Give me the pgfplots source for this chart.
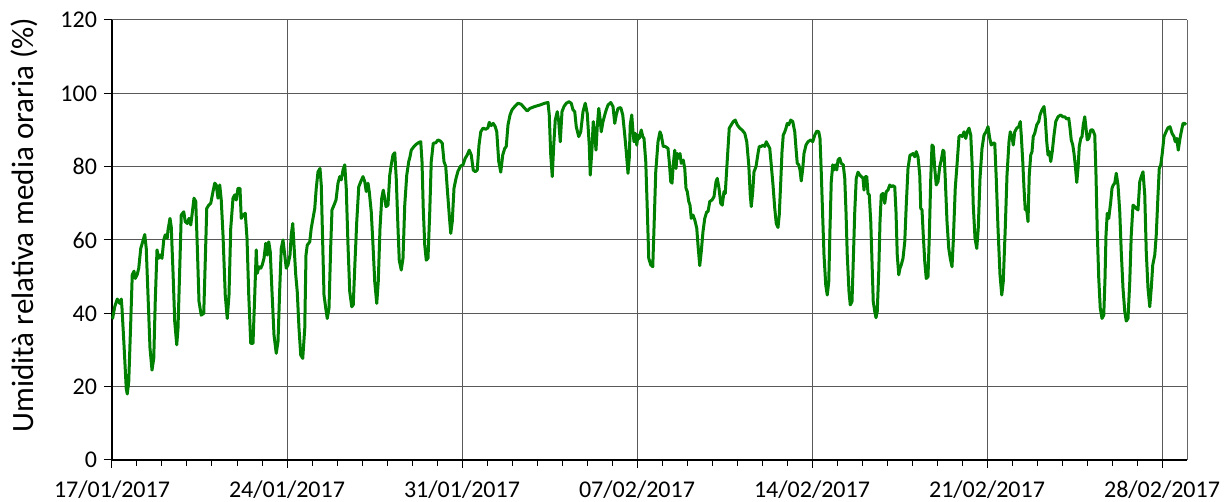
\documentclass[border=0pt]{standalone}
\usepackage{fontspec}
\setmainfont{Carlito}
\usepackage{pgfplots}
\pgfplotsset{compat=1.18}
\definecolor{lgreen}{RGB}{0,128,0}
\begin{document}
\begin{tikzpicture}
\begin{axis}[
  name=ax,
  scale only axis,
  width=537.5pt, height=220pt,
  xmin=0, xmax=43, ymin=0, ymax=120,
  axis x line*=bottom, axis y line*=left,
  axis line style={-, black, line width=0.6pt},
  xtick={0,7,14,21,28,35,42},
  xticklabels={17/01/2017,24/01/2017,31/01/2017,07/02/2017,14/02/2017,21/02/2017,28/02/2017},
  minor x tick num=6,
  ytick={0,20,...,120},
  tick align=outside,
  major tick length=4pt, minor tick length=3pt,
  tick style={black, line width=0.5pt},
  xmajorgrids, ymajorgrids,
  major grid style={black!65, line width=0.5pt},
  /pgf/number format/assume math mode=true,
  tick label style={font=\fontsize{12}{14}\selectfont},
  xticklabel style={yshift=-3pt},
  ylabel={Umidità relativa media oraria (\%)},
  ylabel style={font=\fontsize{15.5}{18}\selectfont, at={(axis description cs:-0.082,0.534)}, anchor=center},
  clip=false,
]
\draw[black!60, line width=0.5pt] (rel axis cs:1,0) -- (rel axis cs:1,1);
\addplot[lgreen, line width=1.5pt, line join=round] coordinates {
(0.00,38.5)(0.03,38.8)(0.11,41.8)(0.21,43.9)(0.31,42.7)(0.37,43.9)(0.40,41.4)(0.48,31.4)(0.57,19.5)(0.61,18.0)(0.67,21.4)(0.75,37.7)(0.81,50.5)(0.88,51.5)(0.93,49.5)(1.01,50.6)(1.07,52.3)(1.15,57.7)(1.21,59.1)(1.31,61.5)(1.37,57.7)(1.44,45)(1.52,30.5)(1.60,24.5)(1.67,27.7)(1.73,43.2)(1.80,57.3)(1.87,55)(1.93,55.9)(2.00,55)(2.07,60)(2.13,61.4)(2.21,60.5)(2.24,62.7)(2.32,65.9)(2.37,63.6)(2.44,51.4)(2.51,37.7)(2.59,31.4)(2.64,35.9)(2.71,52.3)(2.77,66.8)(2.87,67.7)(2.93,65)(3.01,64.5)(3.08,65.9)(3.15,64.1)(3.20,66.8)(3.28,71.4)(3.35,70.5)(3.41,58.6)(3.48,43.2)(3.57,39.5)(3.67,40)(3.73,54.1)(3.79,68.6)(3.87,69.5)
(3.95,70)(4.04,73.2)(4.11,75.5)(4.17,75)(4.24,71.4)(4.31,75)(4.37,70.9)(4.44,61.4)(4.53,45)(4.61,38.6)(4.68,45)(4.75,63.2)(4.84,71.4)(4.91,72.3)(4.97,70.9)(5.04,74.1)(5.12,74.1)(5.17,65.9)(5.25,66.8)(5.33,67.3)(5.40,60.5)(5.47,45)(5.55,31.8)(5.64,31.8)(5.71,45)(5.77,57.3)(5.81,50.9)(5.88,52.7)(5.95,52.3)(6.01,53.2)(6.08,55)(6.15,59.1)(6.21,55.9)(6.27,59.5)(6.33,56.8)(6.40,45.9)(6.48,34.1)(6.57,29.1)(6.64,32.3)(6.71,46.8)(6.77,57.7)(6.84,60)(6.91,55.9)(6.97,52.3)(7.04,53.2)(7.12,55.9)(7.17,61.4)(7.23,64.5)(7.28,58.6)(7.35,50.5)(7.41,45.9)(7.48,35.9)(7.55,28.6)(7.63,27.7)(7.71,35.9)(7.76,55.9)(7.81,58.6)
(7.91,59.5)(7.97,63.2)(8.04,65.9)(8.11,68.6)(8.17,74.1)(8.24,78.6)(8.32,79.5)(8.37,75)(8.43,58.6)(8.48,45)(8.55,41.4)(8.61,38.6)(8.68,41.4)(8.75,58.6)(8.80,68.2)(8.88,69.5)(8.96,70.9)(9.04,75.5)(9.11,77.3)(9.17,76.4)(9.24,79.1)(9.31,80.5)(9.37,74.1)(9.44,58.6)(9.51,45.9)(9.59,41.8)(9.65,42.3)(9.72,54.1)(9.79,65)(9.87,74.5)(9.95,75.9)(10.04,77.3)(10.11,75.9)(10.17,73.2)(10.24,75.5)(10.29,73.2)(10.37,67.7)(10.44,58.6)(10.51,48.6)(10.59,42.7)(10.65,48.6)(10.72,63.2)(10.79,71.4)(10.85,73.6)(10.91,71.4)(10.96,69.1)(11.04,69.5)(11.11,77.7)(11.17,80.5)(11.24,83.2)(11.31,83.8)(11.37,76.8)(11.44,63.2)(11.49,54.5)(11.57,51.8)(11.64,55)(11.71,69.5)(11.79,77.7)(11.87,81.4)(11.92,82.7)
(11.97,84.5)(12.08,85.5)(12.17,86.1)(12.27,86.6)(12.35,86.8)(12.40,81.4)(12.45,68.6)(12.51,58.6)(12.57,54.5)(12.64,55)(12.71,67.7)(12.77,81.4)(12.85,86.4)(12.95,86.5)(13.04,87.3)(13.13,87)(13.21,86.4)(13.28,81.4)(13.35,80)(13.41,74.1)(13.49,66.8)(13.55,61.8)(13.61,65)(13.68,74.1)(13.76,76.8)(13.84,78.8)(13.95,80.2)(14.04,80.5)(14.13,82.3)(14.21,83.2)(14.29,84.5)(14.37,83.2)(14.45,79.1)(14.53,78.6)(14.61,79.1)(14.68,85.9)(14.75,89.5)(14.84,90.5)(14.95,90.2)(15.04,90.6)(15.09,92.1)(15.17,91.2)(15.25,91.8)(15.33,90.9)(15.39,89.5)(15.47,81.4)(15.55,78.5)(15.63,83.2)(15.71,85)(15.77,85.5)(15.84,91.4)(15.92,94.1)
(16.00,95.5)(16.11,96.4)(16.24,97.3)(16.37,97)(16.51,95.9)(16.61,95.2)(16.72,95.9)(16.91,96.4)(17.11,96.8)(17.31,97.3)(17.44,97.5)(17.49,94.1)(17.55,83.2)(17.61,77.3)(17.67,85.9)(17.73,92.7)(17.81,95)(17.87,92.3)(17.93,86.8)(18.00,95)(18.08,96.4)(18.17,97.3)(18.28,97.7)(18.37,97.3)(18.44,95.5)(18.51,95)(18.57,90.9)(18.67,88.2)(18.75,89.5)(18.84,95)(18.93,97.3)(19.01,94.5)(19.09,85.9)(19.13,77.7)(19.20,85)(19.25,92.3)(19.31,88.6)(19.36,84.5)(19.41,90.9)(19.47,95.9)(19.52,93.2)(19.57,89.5)(19.64,92.3)(19.71,94.1)(19.77,95.5)
(19.84,96.8)(19.95,97.5)(20.04,96.4)(20.11,91.8)(20.17,94.1)(20.24,95.9)(20.35,96.1)(20.43,94.1)(20.51,88.6)(20.57,84.1)(20.64,78.2)(20.69,82.3)(20.73,91.4)(20.79,94.1)(20.84,89.5)(20.88,86.8)(20.93,89.1)(20.99,85.9)(21.04,88.6)(21.09,87.7)(21.17,90)(21.23,88.2)(21.28,87.7)(21.35,81.4)(21.41,68.6)(21.47,55)(21.55,53.2)(21.63,52.7)(21.68,63.2)(21.75,78.6)(21.84,86.8)(21.92,89.5)(21.97,88.6)(22.05,85.5)(22.13,85.5)(22.24,85)(22.29,81.4)(22.35,75.9)(22.40,75.5)(22.45,80.5)(22.51,84.5)(22.56,79.5)(22.61,83.6)(22.67,82.3)(22.72,83.6)(22.77,80.9)(22.85,81.8)(22.91,79.5)(22.96,74.1)(23.01,73.2)(23.07,70.5)(23.12,69.5)(23.17,65.9)(23.24,66.8)(23.31,65.5)(23.39,63.2)(23.44,58.6)(23.51,53)(23.57,56.8)(23.64,62.3)(23.71,65.9)(23.79,67.7)
(23.84,67.7)(23.91,70.5)(24.00,70.9)(24.08,71.8)(24.16,75.9)(24.21,76.8)(24.28,74.1)(24.35,70)(24.41,69.5)(24.48,73.2)(24.53,72.7)(24.59,79.5)(24.64,85)(24.69,90.5)(24.77,91.4)(24.85,92.3)(24.93,92.7)(25.01,91.4)(25.11,90.5)(25.20,90)(25.31,89.1)(25.39,86.8)(25.47,80.5)(25.53,72.3)(25.57,69.1)(25.63,73.2)(25.68,78.6)(25.76,80)(25.84,83.6)(25.89,85.5)(25.97,85.5)(26.04,85.9)(26.11,85.5)(26.17,86.8)(26.24,85.9)(26.31,85)(26.37,80.5)(26.44,75)(26.51,68.6)(26.57,64.5)(26.64,63.4)(26.69,66.8)(26.75,75.9)(26.80,84.1)(26.85,88.6)(26.91,89.5)(26.96,90.5)(27.01,91.8)(27.07,91.4)(27.15,92.7)(27.23,92.3)(27.31,89.5)(27.36,85)(27.41,80.9)(27.47,80.5)(27.52,79.1)(27.57,76.1)(27.63,79.5)(27.68,83.6)(27.76,85.9)
(27.84,86.8)(27.95,87.3)(28.03,86.8)(28.11,88.6)(28.19,89.7)(28.27,89.5)(28.32,87.7)(28.37,78.6)(28.43,65.9)(28.48,55.9)(28.55,47.7)(28.61,45)(28.67,48.6)(28.72,63.2)(28.77,75.9)(28.83,80.5)(28.88,79.1)(28.93,80.5)(28.99,79.1)(29.04,81.8)(29.11,82.3)(29.17,80.9)(29.25,80.5)(29.31,76.8)(29.36,67.7)(29.41,55.9)(29.48,45.9)(29.53,42.3)(29.60,43.2)(29.65,54.1)(29.71,67.7)(29.77,76.8)(29.84,78.5)(29.91,77.7)(29.97,77.3)(30.04,76.8)(30.08,73.6)(30.13,77.3)(30.19,77.3)(30.24,72.7)(30.29,72.3)(30.35,65)(30.40,54.1)(30.45,43.2)(30.51,40.5)(30.56,38.8)(30.61,40.5)(30.67,51.4)(30.72,65)(30.77,72.3)(30.84,72.7)(30.91,70)(30.97,73.2)(31.04,73.6)(31.11,75)(31.17,74.5)(31.24,74.8)(31.31,74.5)(31.36,67.7)(31.41,55.9)(31.47,50.5)(31.52,52.3)(31.57,53.2)(31.64,55)(31.71,59.5)(31.77,69.5)(31.84,79.5)(31.92,83.2)
(31.97,83.2)(32.04,83.6)(32.11,82.7)(32.17,84.1)(32.24,82.7)(32.31,77.7)(32.35,68.6)(32.40,68.2)(32.45,61.4)(32.51,54.1)(32.57,49.5)(32.64,50)(32.69,60.5)(32.75,76.8)(32.80,85.9)(32.85,85.5)(32.91,79.5)(32.97,75)(33.04,75.9)(33.11,80)(33.17,81.8)(33.24,84.5)(33.28,84.1)(33.33,76.8)(33.40,65)(33.47,57.7)(33.53,55)(33.60,52.7)(33.65,59.5)(33.73,74.1)(33.81,81.4)(33.88,88.2)(33.95,88.6)(34.01,88.2)(34.08,89.5)(34.15,87.7)(34.21,89.5)(34.28,90.5)(34.35,88.6)(34.40,81.4)(34.45,69.5)(34.52,60.5)(34.59,57.7)(34.65,63.2)(34.72,76.8)(34.80,85)(34.88,88.6)(34.96,89.5)(35.04,90.9)(35.11,87.7)(35.17,85.9)(35.24,86.4)(35.31,86.4)(35.37,76.8)(35.44,63.2)(35.52,50.5)(35.59,45)(35.65,48.6)(35.73,63.2)(35.80,77.7)
(35.88,86.8)(35.93,89.5)(36.00,88.2)(36.05,85.9)(36.11,89.5)(36.19,90.5)(36.27,90.9)(36.33,92.3)(36.37,88.6)(36.43,81.4)(36.48,74.1)(36.53,68.2)(36.59,68.2)(36.64,65)(36.69,77.7)(36.75,83.2)(36.80,84.1)(36.85,88.2)(36.91,89.1)(36.99,91.4)(37.07,92.3)(37.12,94.1)(37.20,95.5)(37.28,96.4)(37.33,93.2)(37.39,86.8)(37.44,83.2)(37.49,84.1)(37.55,81.4)(37.61,84.1)(37.68,88.6)(37.75,92.3)(37.84,93.6)(37.95,94.1)(38.03,93.6)(38.11,93.6)(38.19,93)(38.27,93.2)(38.32,90.5)(38.37,87.3)(38.43,85.9)(38.48,83.6)(38.53,80.5)(38.59,75.7)(38.64,79.5)(38.69,85.5)(38.75,87.7)(38.80,88.2)(38.85,91.4)(38.91,93.6)(38.96,90.5)(39.01,87.3)(39.07,87.7)(39.15,90)(39.23,90)(39.31,88.6)(39.36,77.7)(39.41,62.3)(39.47,49.5)(39.53,41.4)(39.60,38.6)(39.67,39.5)(39.72,49.5)(39.76,61.4)(39.81,67.3)(39.87,65.9)
(39.95,70.5)(40.00,74.1)(40.05,75)(40.11,75.5)(40.17,78.2)(40.24,75)(40.31,67.7)(40.37,56.8)(40.44,46.8)(40.51,40.5)(40.57,37.9)(40.64,38.6)(40.71,48.6)(40.77,61.4)(40.84,69.5)(40.91,69.1)(40.97,68.6)(41.04,68.2)(41.11,75.9)(41.17,77.3)(41.24,78.6)(41.31,72.3)(41.37,56.8)(41.44,46.8)(41.51,41.8)(41.57,46.8)(41.63,53.2)(41.71,55.9)(41.77,61.4)(41.84,72.3)(41.89,79.5)(41.95,80.5)(42.01,83.6)(42.08,88.2)(42.16,89.5)(42.24,90.6)(42.32,90.9)(42.40,89.1)(42.48,88.2)(42.53,86.8)(42.59,87.7)(42.65,84.5)(42.72,87.7)(42.77,89.5)(42.84,91.8)(42.91,91.8)(42.96,91.4)
};
\end{axis}
\pgfresetboundingbox
\path ([xshift=-56pt,yshift=-21pt]ax.south west) rectangle ([xshift=22pt,yshift=10pt]ax.north east);
\end{tikzpicture}
\end{document}
